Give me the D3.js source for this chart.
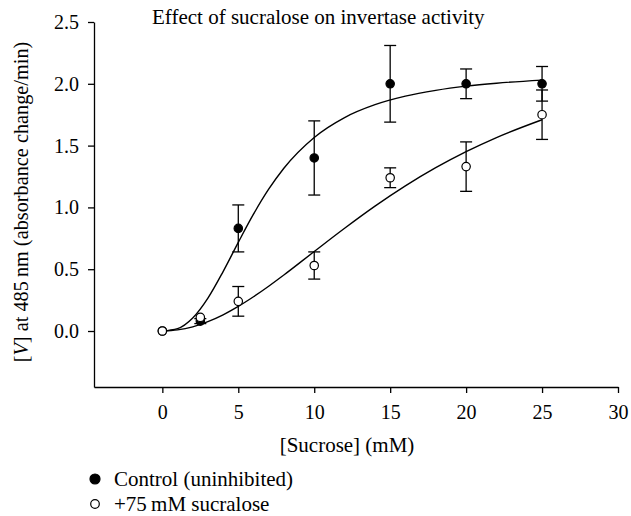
<!DOCTYPE html>
<html><head><meta charset="utf-8">
<script src="https://cdn.jsdelivr.net/npm/d3@7"></script>
<style>
html,body{margin:0;padding:0;background:#fff;}
text{font-family:"Liberation Serif","Times New Roman",serif;fill:#000;}
</style></head>
<body>
<svg id="chart" width="631" height="516"></svg>
<script>
// ---- data ----
const sucrose = [0, 2.5, 5, 10, 15, 20, 25];
const controlMean = [0, 0.08, 0.83, 1.40, 2.00, 2.00, 2.00];
const controlErr  = [0, 0.02, 0.19, 0.30, 0.31, 0.12, 0.14];
const sucraloseMean = [0, 0.11, 0.24, 0.53, 1.24, 1.33, 1.75];
const sucraloseErr  = [0, 0.00, 0.12, 0.11, 0.08, 0.20, 0.20];
const curveX = [0, 1, 2, 3, 4, 5, 6, 7, 8, 10, 12, 14, 16, 18, 20, 22, 25];
const controlCurve   = [0, 0.019, 0.105, 0.266, 0.481, 0.717, 0.945, 1.147, 1.317, 1.566, 1.727, 1.831, 1.900, 1.947, 1.981, 2.005, 2.03];
const sucraloseCurve = [0, 0.009, 0.034, 0.076, 0.131, 0.199, 0.277, 0.362, 0.453, 0.643, 0.831, 1.010, 1.174, 1.321, 1.451, 1.565, 1.709];
const xTicks = [0, 5, 10, 15, 20, 25, 30];
const yTicks = [0, 0.5, 1.0, 1.5, 2.0, 2.5];
const title = "Effect of sucralose on invertase activity";
const xLabel = "[Sucrose] (mM)";
const legendLabels = ["Control (uninhibited)", "+75\u2009mM sucralose"];

const svg = d3.select("#chart");
const x = d3.scaleLinear().domain([-4.5, 30]).range([94, 618]);
const y = d3.scaleLinear().domain([-0.453, 2.5]).range([387, 22]);

// axes
const gy = svg.append("g").attr("transform", "translate(94,0)")
  .call(d3.axisLeft(y).tickValues(yTicks).tickFormat(d3.format(".1f")).tickSize(6).tickSizeOuter(0).tickPadding(9));
const gx = svg.append("g").attr("transform", "translate(0,387)")
  .call(d3.axisBottom(x).tickValues(xTicks).tickFormat(d3.format("d")).tickSize(6).tickSizeOuter(0).tickPadding(12));
[gy, gx].forEach(g => {
  g.selectAll("path.domain").attr("stroke", "#000").attr("stroke-width", 1.3);
  g.selectAll(".tick line").attr("stroke", "#000").attr("stroke-width", 1.3);
  g.selectAll(".tick text").style("font-family", "Liberation Serif").style("font-size", "20px").attr("fill", "#000");
});

// curves
const line = d3.line().x(d => x(d[0])).y(d => y(d[1])).curve(d3.curveMonotoneX);
[controlCurve, sucraloseCurve].forEach(c => {
  svg.append("path").datum(curveX.map((v, i) => [v, c[i]]))
    .attr("d", line).attr("fill", "none").attr("stroke", "#000").attr("stroke-width", 1.4);
});

// error bars + markers
function drawSeries(means, errs, filled) {
  const g = svg.append("g");
  sucrose.forEach((sx, i) => {
    const e = errs[i];
    if (e > 0) {
      const cx = x(sx);
      g.append("line").attr("x1", cx).attr("x2", cx).attr("y1", y(means[i] + e)).attr("y2", y(means[i] - e))
        .attr("stroke", "#000").attr("stroke-width", 1.3);
      [means[i] + e, means[i] - e].forEach(v => {
        g.append("line").attr("x1", cx - 6).attr("x2", cx + 6).attr("y1", y(v)).attr("y2", y(v))
          .attr("stroke", "#000").attr("stroke-width", 1.3);
      });
    }
  });
  sucrose.forEach((sx, i) => {
    g.append("circle").attr("cx", x(sx)).attr("cy", y(means[i])).attr("r", 4.2)
      .attr("fill", filled ? "#000" : "#fff").attr("stroke", "#000").attr("stroke-width", 1.2);
  });
}
drawSeries(controlMean, controlErr, true);
drawSeries(sucraloseMean, sucraloseErr, false);

// title
svg.append("text").attr("x", 152).attr("y", 24).style("font-size", "21px").text(title);

// axis labels
svg.append("text").attr("x", 347).attr("y", 452).attr("text-anchor", "middle").style("font-size", "21px").text(xLabel);
const yl = svg.append("text").attr("transform", "translate(28,202) rotate(-90)").attr("text-anchor", "middle").style("font-size", "20.3px");
yl.append("tspan").text("[");
yl.append("tspan").style("font-style", "italic").text("V");
yl.append("tspan").text("] at 485\u2009nm (absorbance change/min)");

// legend
legendLabels.forEach((lab, i) => {
  const ly = 479 + i * 25;
  svg.append("circle").attr("cx", 95).attr("cy", ly).attr("r", i === 0 ? 5 : 4.3)
    .attr("fill", i === 0 ? "#000" : "#fff").attr("stroke", "#000").attr("stroke-width", 1.2);
  svg.append("text").attr("x", 114).attr("y", ly + 7).style("font-size", "21px").text(lab);
});
</script>
</body></html>
